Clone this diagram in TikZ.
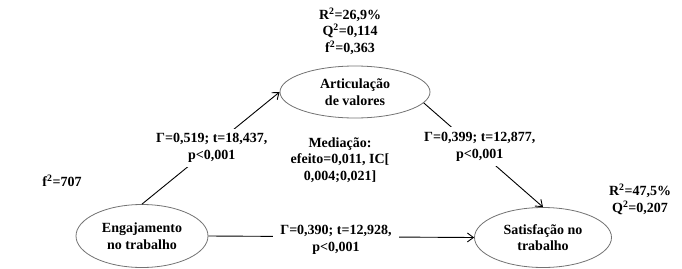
\documentclass[tikz,border=0pt]{standalone}
\usepackage{fontspec}
\setmainfont{Liberation Serif}
\usetikzlibrary{shapes.geometric,arrows.meta}
\tikzset{
  every node/.style={font=\fontsize{14}{16.5}\selectfont\bfseries},
  construct/.style={ellipse, draw=black!55, line width=0.8pt, inner sep=0pt, align=center, fill=white},
  txt/.style={align=center, inner sep=0pt},
  pathlbl/.style={align=center, fill=white, inner xsep=7pt, inner ysep=5pt},
  link/.style={line width=0.9pt, -{Straight Barb[length=6pt,width=9pt,line width=0.9pt]}}
}
\begin{document}
\begin{tikzpicture}[x=1pt,y=-1pt]
\useasboundingbox (0,0) rectangle (682,268);
% constructs
\node[construct, minimum width=150pt, minimum height=52pt] (art) at (355,92) {Articulação\\de valores};
\node[construct, minimum width=132pt, minimum height=63pt] (eng) at (142,236) {Engajamento\\no trabalho};
\node[construct, minimum width=137pt, minimum height=60pt] (sat) at (543,237.5) {Satisfação no\\trabalho};
% paths
\draw[link] (eng.north) -- node[pathlbl, pos=0.5, xshift=1pt] (l1) {Γ=0,519; t=18,437,\\p<0,001} (art.west);
\draw[link] (art.-9.5) -- node[pathlbl, pos=0.42, xshift=6pt] (l2) {Γ=0,399; t=12,877,\\p<0,001} (sat.north);
\draw[link] (eng.east) -- node[pathlbl, pos=0.48, yshift=-3pt] (l3) {Γ=0,390; t=12,928,\\p<0,001} (sat.west);
% statistics
\node[txt] (s1) at (350,31) {R\textsuperscript{2}=26,9\%\\Q\textsuperscript{2}=0,114\\f\textsuperscript{2}=0,363};
\node[txt] (med) at (340,160) {Mediação:\\efeito=0,011, IC[\\0,004;0,021]};
\node[txt] (f2) at (62,181) {f\textsuperscript{2}=707};
\node[txt] (s2) at (640,199.5) {R\textsuperscript{2}=47,5\%\\Q\textsuperscript{2}=0,207};
\end{tikzpicture}
\end{document}
